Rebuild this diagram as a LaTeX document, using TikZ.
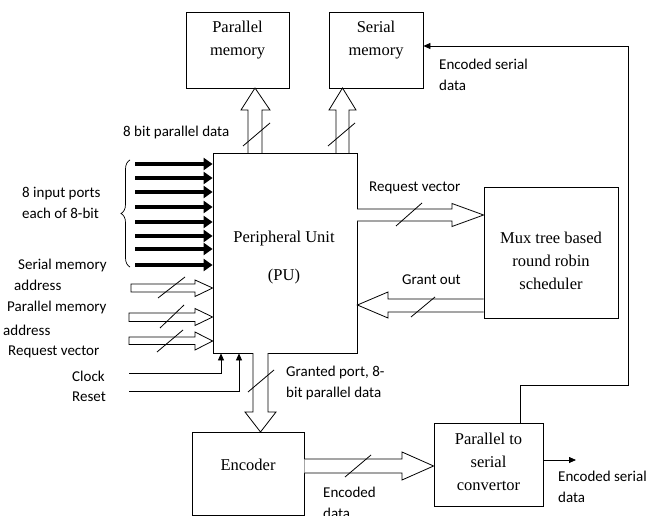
\documentclass[tikz,border=0pt]{standalone}
\usepackage{fontspec}
\setmainfont{Liberation Serif}
\newfontfamily\labfont{Carlito}
\usetikzlibrary{arrows.meta,decorations.pathreplacing}
\begin{document}
\begin{tikzpicture}[x=1pt,y=-1pt,
  box/.style={draw,line width=0.8pt,inner sep=0pt},
  boxtext/.style={inner sep=0pt,align=center,font=\fontsize{16.5}{23}\selectfont},
  lbl/.style={inner sep=0pt,anchor=west,align=left,font=\labfont\fontsize{15}{21}\selectfont},
  hollow/.style={draw,line width=0.8pt,fill=white,line join=miter},
  slash/.style={line width=0.8pt},
  wire/.style={line width=0.8pt},
  tip/.style={-{Triangle[length=7pt,width=6pt]}},
  portarrow/.style={line width=3.6pt,-{Triangle[length=9pt,width=12pt]}}]
\useasboundingbox (0,0) rectangle (659,516);

% boxes
\node[box,minimum width=144pt,minimum height=200pt] (pu) at (285,253) {};
\node[boxtext] at (284,239) {Peripheral Unit};
\node[boxtext] at (284,277) {(PU)};
\node[box,minimum width=103pt,minimum height=76pt] (pm) at (237.5,50) {};
\node[boxtext] at (237.5,40) {Parallel\\memory};
\node[box,minimum width=94pt,minimum height=76pt] (sm) at (376,50) {};
\node[boxtext] at (376,40) {Serial\\memory};
\node[box,minimum width=134pt,minimum height=131pt] (mux) at (551,252.5) {};
\node[boxtext] at (551,261) {Mux tree based\\round robin\\scheduler};
\node[box,minimum width=112pt,minimum height=83pt] (enc) at (248,473.5) {};
\node[boxtext] at (248,465) {Encoder};
\node[box,minimum width=109pt,minimum height=83pt] (p2s) at (488.5,464.5) {};
\node[boxtext] at (488.5,462) {Parallel to\\serial\\convertor};

% hollow arrows to memories
\draw[hollow] (248,153) -- (248,110) -- (241,110) -- (255,88) -- (270,110) -- (262,110) -- (262,153);
\draw[slash] (243,146) -- (270,123);
\draw[hollow] (336,153) -- (336,110) -- (329,110) -- (342.5,88) -- (356,110) -- (349,110) -- (349,153);
\draw[slash] (328,146) -- (355,123);

% request vector to mux
\draw[hollow] (357,209) -- (452,209) -- (452,203.5) -- (mux.west |- 0,215) -- (452,226.5) -- (452,221) -- (357,221);
\draw[slash] (396,226) -- (422,203);
% grant out
\draw[hollow] (mux.west |- 0,299) -- (388,299) -- (388,292) -- (pu.east |- 0,305) -- (388,318) -- (388,312) -- (mux.west |- 0,312);
\draw[slash] (411,317) -- (435,297);
% down to encoder
\draw[hollow] (253,353) -- (253,412) -- (245,412) -- (260.5,432) -- (276,412) -- (268,412) -- (268,353);
\draw[slash] (248,392) -- (274,370);
% encoder to p2s
\draw[hollow] (enc.east |- 0,459) -- (402,459) -- (402,452) -- (p2s.west |- 0,466) -- (402,480) -- (402,473) -- (enc.east |- 0,473);
\draw[slash] (345,477) -- (371,455);

% left inputs
\foreach \y in {164,178,192,207,222,236,249,265}
  \draw[portarrow] (135,\y) -- (pu.west |- 0,\y);
\draw[decorate,decoration={brace,amplitude=9pt},line width=0.7pt] (130,267) -- (130,160);

\draw[hollow] (131,284) -- (195,284) -- (195,280) -- (pu.west |- 0,288) -- (195,296.5) -- (195,292) -- (131,292) -- cycle;
\draw[slash] (158,298) -- (185,277);
\draw[hollow] (129,313) -- (195,313) -- (195,308.5) -- (pu.west |- 0,317) -- (195,325.5) -- (195,321.5) -- (129,321.5) -- cycle;
\draw[slash] (160,328) -- (184,305);
\draw[hollow] (129,337) -- (195,337) -- (195,332) -- (pu.west |- 0,341) -- (195,350) -- (195,344.5) -- (129,344.5) -- cycle;
\draw[slash] (157,352) -- (183,330);

% clock and reset
\coordinate (clk) at (129,373);
\coordinate (rst) at (129,391);
\draw[wire,tip] (clk) -- (221,373) -- (221,0 |- pu.south);
\draw[wire,tip] (rst) -- (239,391) -- (239,0 |- pu.south);

% feedback serial data
\coordinate (fb1) at (520,385);
\coordinate (fb2) at (628,385);
\coordinate (fb3) at (628,46);
\draw[wire,tip] (fb1 |- p2s.north) -- (fb1) -- (fb2) -- (fb3) -- (sm.east |- fb3);
% output
\coordinate (out) at (576,460);
\draw[wire,tip] (p2s.east |- out) -- (out);

% labels
\node[lbl] at (123,133) {8 bit parallel data};
\node[lbl] at (439,75) {Encoded serial\\data};
\node[lbl] at (369,188) {Request vector};
\node[lbl] at (402,280) {Grant out};
\node[lbl] at (22,203) {8 input ports\\each of 8-bit};
\node[lbl] at (18,265) {Serial memory};
\node[lbl] at (14,285) {address};
\node[lbl] at (7,308) {Parallel memory};
\node[lbl] at (3,330) {address};
\node[lbl] at (8,352) {Request vector};
\node[lbl] at (72,376) {Clock};
\node[lbl] at (72,397) {Reset};
\node[lbl] at (286,383) {Granted port, 8-\\bit parallel data};
\node[lbl] at (323,492) {Encoded};
\node[lbl] at (323,513) {data};
\node[lbl] at (558,487) {Encoded serial\\data};
\end{tikzpicture}
\end{document}
